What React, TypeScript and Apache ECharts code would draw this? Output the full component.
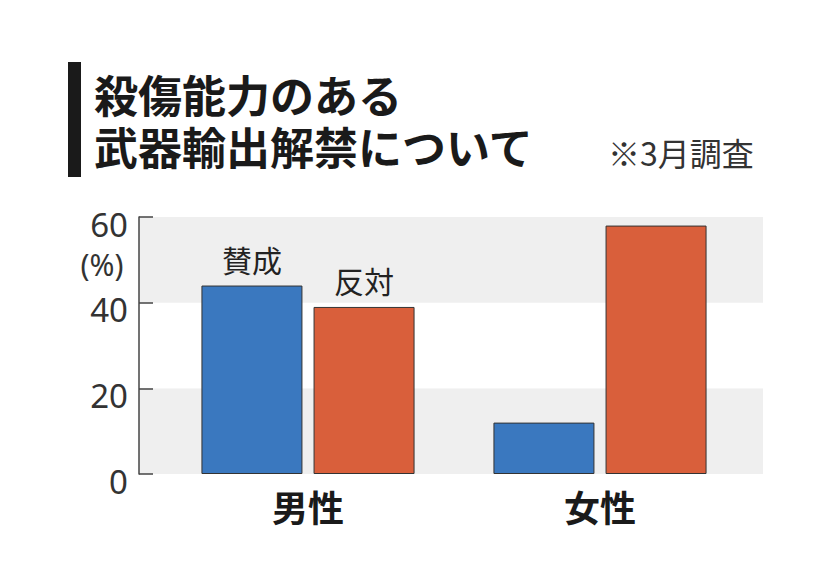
import React, { useEffect, useRef } from "react";
import * as echarts from "echarts";

const categories = ["男性", "女性"];
const approve = [44, 12];
const oppose = [39, 58];
const seriesNames = ["賛成", "反対"];
const yTicks = [0, 20, 40, 60];

export default function App() {
  const ref = useRef<HTMLDivElement>(null);
  useEffect(() => {
    if (!ref.current) return;
    const chart = echarts.init(ref.current, null, { renderer: "svg" });
    const font = "'Noto Sans CJK JP', 'Noto Sans', sans-serif";
    const labelFor = (name: string) => ({
      show: true,
      position: "top" as const,
      distance: 12,
      formatter: name,
      fontSize: 30,
      fontFamily: font,
      color: "#222",
    });
    chart.setOption({
      animation: false,
      backgroundColor: "#ffffff",
      grid: [
        { left: 139, top: 217, width: 624, height: 257 },
        { left: 162, top: 217, width: 584, height: 257 },
      ],
      xAxis: [
        { gridIndex: 0, type: "category", data: categories, show: false },
        {
          gridIndex: 1,
          type: "category",
          data: categories,
          axisLine: { show: false },
          axisTick: { show: false },
          axisLabel: {
            fontSize: 36,
            fontWeight: "bold",
            fontFamily: font,
            color: "#1a1a1a",
            margin: 14,
          },
        },
      ],
      yAxis: [
        {
          gridIndex: 0,
          type: "value",
          min: yTicks[0],
          max: yTicks[yTicks.length - 1],
          interval: 20,
          axisLine: { show: true, lineStyle: { color: "#444", width: 1.5 } },
          axisTick: { show: true, inside: true, length: 14, lineStyle: { color: "#444", width: 1.5 } },
          axisLabel: {
            fontSize: 33,
            fontFamily: "'Noto Sans', sans-serif",
            color: "#333",
            margin: 11,
            verticalAlign: "top",
            lineHeight: 14,
          },
          splitLine: { show: false },
          splitArea: { show: true, areaStyle: { color: ["#efefef", "#ffffff"] } },
        },
        { gridIndex: 1, type: "value", min: 0, max: 60, show: false },
      ],
      series: [
        {
          name: seriesNames[0],
          type: "bar",
          xAxisIndex: 1,
          yAxisIndex: 1,
          barWidth: 101,
          barGap: "11%",
          data: approve.map((v, i) => (i === 0 ? { value: v, label: labelFor(seriesNames[0]) } : v)),
          itemStyle: { color: "#3a78bf", borderColor: "#333", borderWidth: 1 },
        },
        {
          name: seriesNames[1],
          type: "bar",
          xAxisIndex: 1,
          yAxisIndex: 1,
          barWidth: 101,
          barGap: "11%",
          data: oppose.map((v, i) => (i === 0 ? { value: v, label: labelFor(seriesNames[1]) } : v)),
          itemStyle: { color: "#d95f3b", borderColor: "#333", borderWidth: 1 },
        },
      ],
      graphic: [
        { type: "rect", left: 68, top: 62, shape: { width: 13, height: 115 }, style: { fill: "#1a1a1a" } },
        {
          type: "text",
          x: 94,
          y: 94,
          style: {
            text: "殺傷能力のある",
            fontSize: 44,
            lineHeight: 44,
            fontWeight: "bold",
            fontFamily: font,
            fill: "#1a1a1a",
            verticalAlign: "middle",
          },
        },
        {
          type: "text",
          x: 94,
          y: 146,
          style: {
            text: "武器輸出解禁について",
            fontSize: 44,
            lineHeight: 44,
            fontWeight: "bold",
            fontFamily: font,
            fill: "#1a1a1a",
            verticalAlign: "middle",
          },
        },
        {
          type: "text",
          x: 608,
          y: 152,
          style: { text: "※3月調査", fontSize: 32, fontFamily: font, fill: "#333", verticalAlign: "middle" },
        },
        {
          type: "text",
          x: 102,
          y: 264,
          style: {
            text: "(%)",
            fontSize: 30,
            lineHeight: 28,
            fontFamily: "'Noto Sans', sans-serif",
            fill: "#333",
            align: "center",
            verticalAlign: "middle",
          },
        },
      ],
    });
    return () => chart.dispose();
  }, []);
  return <div ref={ref} style={{ width: 826, height: 567, position: "absolute", left: 0, top: 0 }} />;
}
